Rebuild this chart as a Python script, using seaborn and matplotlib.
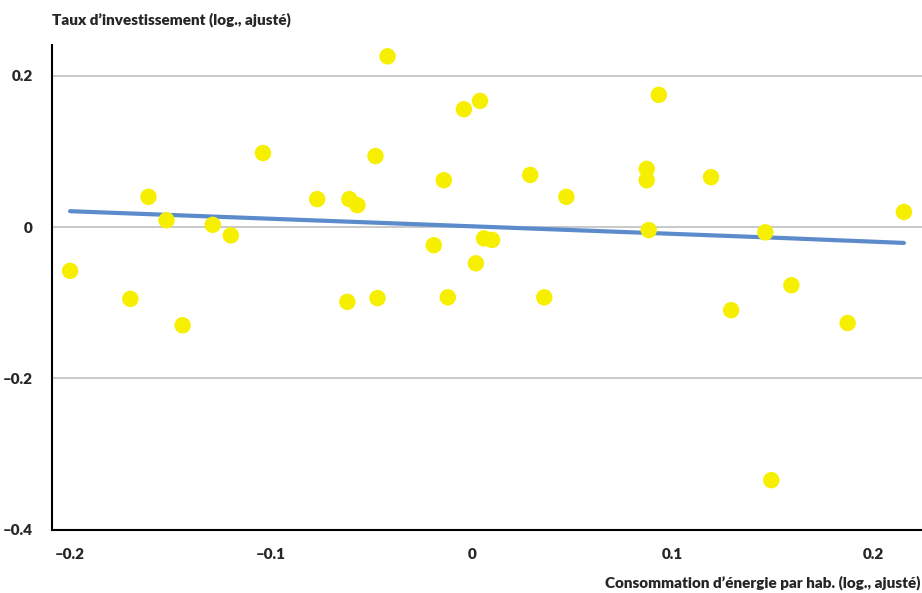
import numpy as np
import pandas as pd
import matplotlib
matplotlib.use("Agg")
import matplotlib.pyplot as plt
import seaborn as sns

# points
energie = [-0.200, -0.170, -0.161, -0.152, -0.144, -0.129, -0.120, -0.104, -0.077,
           -0.062, -0.061, -0.057, -0.048, -0.047, -0.042, -0.019, -0.014, -0.012,
           -0.004, 0.002, 0.004, 0.006, 0.010, 0.029, 0.036, 0.047, 0.087, 0.087,
           0.088, 0.093, 0.119, 0.129, 0.146, 0.149, 0.159, 0.187, 0.215]
invest = [-0.058, -0.095, 0.040, 0.009, -0.130, 0.003, -0.011, 0.098, 0.037,
          -0.099, 0.037, 0.029, 0.094, -0.094, 0.226, -0.024, 0.062, -0.093,
          0.156, -0.048, 0.167, -0.015, -0.017, 0.069, -0.093, 0.040, 0.077, 0.062,
          -0.004, 0.175, 0.066, -0.110, -0.007, -0.335, -0.077, -0.127, 0.020]

# fitted trend line
trend_x = [-0.200, -0.150, -0.100, -0.050, 0.000, 0.050, 0.100, 0.150, 0.215]
trend_y = [0.021, 0.016, 0.011, 0.006, 0.001, -0.004, -0.009, -0.014, -0.021]

df = pd.DataFrame({"x": energie, "y": invest})
trend = pd.DataFrame({"x": trend_x, "y": trend_y})

sns.set_style("white")
plt.rcParams['font.family'] = ['Lato', 'DejaVu Sans']

fig = plt.figure(figsize=(9.22, 5.93), dpi=100)
ax = fig.add_axes([52/922, 1 - 530/593, 870/922, 485/593])

ax.axhline(0.2, color="#c0c0c0", lw=1.2, zorder=0)
ax.axhline(0.0, color="#c0c0c0", lw=1.2, zorder=0)
ax.axhline(-0.2, color="#c0c0c0", lw=1.2, zorder=0)

sns.lineplot(data=trend, x="x", y="y", ax=ax, color="#5b8bcb", lw=3, zorder=2)
sns.scatterplot(data=df, x="x", y="y", ax=ax, color="#f7ef00", s=140,
                edgecolor="none", zorder=3)

ax.set_xlim(-0.209, 0.224)
ax.set_ylim(-0.401, 0.241)
ax.set_xticks([-0.2, -0.1, 0, 0.1, 0.2])
ax.set_xticklabels(["\u20130.2", "\u20130.1", "0", "0.1", "0.2"])
ax.set_yticks([-0.4, -0.2, 0, 0.2])
ax.set_yticklabels(["\u20130.4", "\u20130.2", "0", "0.2"])
ax.tick_params(axis="both", length=0, labelsize=11)
ax.tick_params(axis="x", pad=13)
ax.tick_params(axis="y", pad=14)
for lab in ax.get_xticklabels() + ax.get_yticklabels():
    lab.set_fontweight("heavy")

for s in ["top", "right"]:
    ax.spines[s].set_visible(False)
for s in ["left", "bottom"]:
    ax.spines[s].set_color("black")
    ax.spines[s].set_linewidth(1.5)

ax.set_xlabel("")
ax.set_ylabel("")
fig.text(52/922, 1 - 20/593, "Taux d\u2019investissement (log., ajusté)",
         ha="left", va="center", fontsize=11, fontweight="heavy")
fig.text(920/922, 1 - 583/593, "Consommation d\u2019énergie par hab. (log., ajusté)",
         ha="right", va="center", fontsize=11, fontweight="heavy")

fig.savefig("out.png", dpi=100)
